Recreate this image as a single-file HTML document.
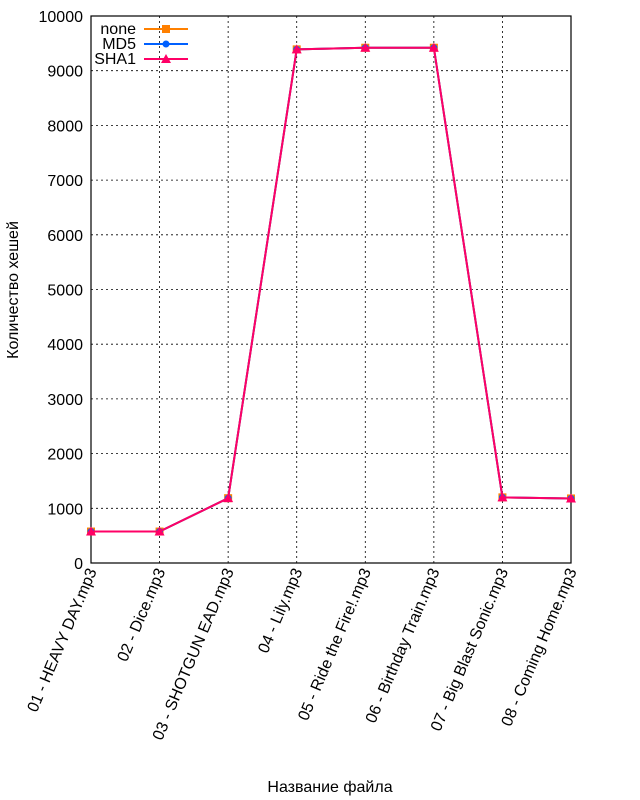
<!DOCTYPE html>
<html><head><meta charset="utf-8"><style>body{margin:0;background:#fff}svg{display:block;font-family:"Liberation Sans",sans-serif}</style></head>
<body>
<svg id="c" width="640" height="800"></svg>
<script>
const categories=["01 - HEAVY DAY.mp3","02 - Dice.mp3","03 - SHOTGUN  EAD.mp3","04 - Lily.mp3","05 - Ride the Fire!.mp3","06 - Birthday Train.mp3","07 - Big Blast Sonic.mp3","08 - Coming Home.mp3"];
const noneVals=[575,575,1185,9390,9420,9420,1200,1180];
const md5Vals=[575,575,1185,9390,9420,9420,1200,1180];
const sha1Vals=[575,575,1185,9390,9420,9420,1200,1180];
const yTicks=[0,1000,2000,3000,4000,5000,6000,7000,8000,9000,10000];
const seriesNames=["none","MD5","SHA1"];
const NS="http://www.w3.org/2000/svg",svg=document.getElementById('c');
const L=91,R=571,T=16,B=563;
const xs=i=>L+i*(R-L)/(categories.length-1);
const ys=v=>B-(v/10000)*(B-T);
function mk(t,a,p){const e=document.createElementNS(NS,t);for(const k in a)e.setAttribute(k,a[k]);(p||svg).appendChild(e);return e;}
yTicks.forEach(v=>{const y=ys(v);
 if(v>0&&v<10000){const g=mk('line',{x1:L,x2:R,y1:y,y2:y,stroke:'#000','stroke-dasharray':'2,3','stroke-width':0.8});}
 const t=mk('text',{x:L-8,y:y+6,'text-anchor':'end','font-size':16});t.textContent=v;
 
 
});
categories.forEach((c,i)=>{const x=xs(i);
 if(i>0&&i<categories.length-1){const g=mk('line',{x1:x,x2:x,y1:T,y2:B,stroke:'#000','stroke-dasharray':'2,3','stroke-width':0.8});}
 const t=mk('text',{x:0,y:0,'text-anchor':'end','font-size':16,transform:`translate(${x+6},${B+8}) rotate(-67)`});t.textContent=c;
 
 
});
const fr=mk('rect',{x:L,y:T,width:R-L,height:B-T,fill:'none',stroke:'#000','stroke-width':1.2});

const series=[{n:seriesNames[0],v:noneVals,c:'#ff8000',m:'sq'},{n:seriesNames[1],v:md5Vals,c:'#0060ff',m:'dot'},{n:seriesNames[2],v:sha1Vals,c:'#ff0066',m:'tri'}];
function marker(m,x,y,c,g){if(m==='sq')return mk('rect',{x:x-4,y:y-4,width:8,height:8,fill:c},g);if(m==='dot')return mk('circle',{cx:x,cy:y,r:3.5,fill:c},g);return mk('polygon',{points:`${x-5},${y+4} ${x+5},${y+4} ${x},${y-5}`,fill:c},g);}
series.forEach((s,k)=>{const g=mk('g',{});
 const l=mk('polyline',{points:s.v.map((v,i)=>xs(i)+','+ys(v)).join(' '),fill:'none',stroke:s.c,'stroke-width':2},g);
 
 
 s.v.forEach((v,i)=>{const p=marker(s.m,xs(i),ys(v),s.c,g);
  
  });
 const ly=29+k*15;const lg=mk('g',{});
 const t=mk('text',{x:136,y:ly+5,'text-anchor':'end','font-size':16},lg);t.textContent=s.n;
 mk('line',{x1:144,x2:188,y1:ly,y2:ly,stroke:s.c,'stroke-width':2},lg);marker(s.m,166,ly,s.c,lg);
});
const yt=mk('text',{x:0,y:0,'text-anchor':'middle','font-size':16,transform:'translate(18,290) rotate(-90)'});yt.textContent='Количество хешей';

const xt=mk('text',{x:330,y:792,'text-anchor':'middle','font-size':16});xt.textContent='Название файла';

</script>
</body></html>
